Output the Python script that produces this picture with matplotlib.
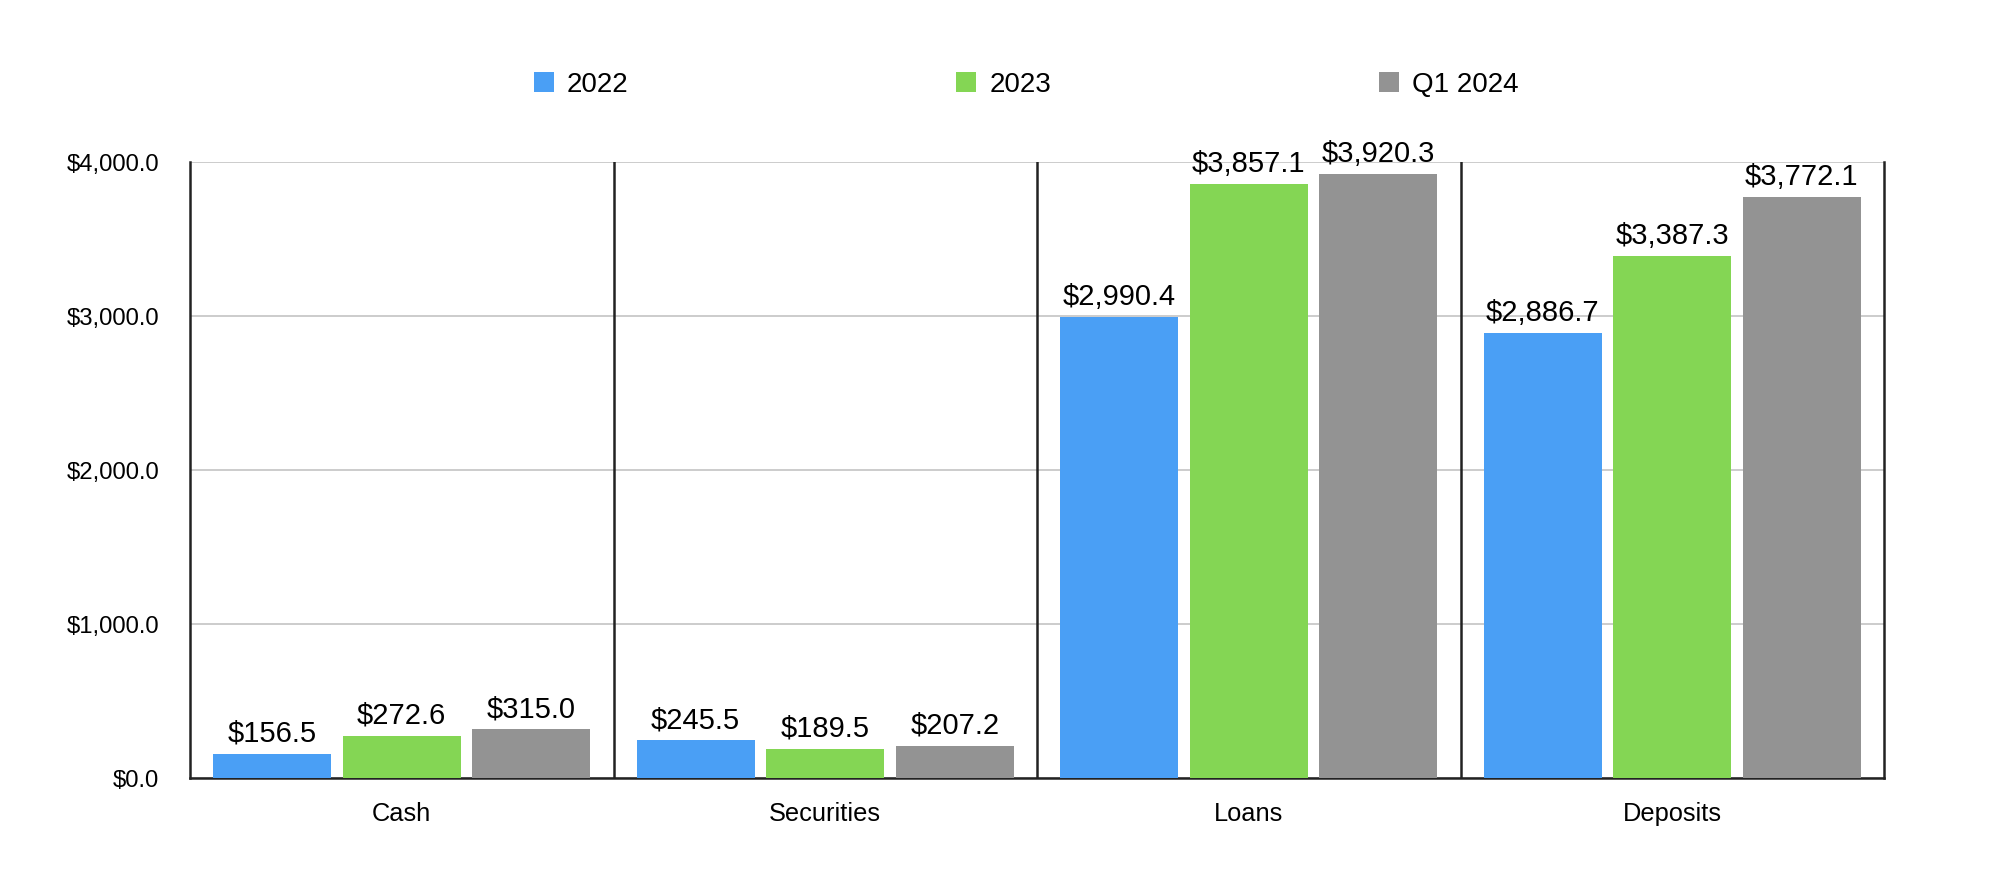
import matplotlib
matplotlib.use("Agg")
import matplotlib.pyplot as plt
from matplotlib.patches import Patch
import numpy as np

categories = ["Cash", "Securities", "Loans", "Deposits"]
series_names = ["2022", "2023", "Q1 2024"]
values_2022 = [156.5, 245.5, 2990.4, 2886.7]
values_2023 = [272.6, 189.5, 3857.1, 3387.3]
values_q1_2024 = [315.0, 207.2, 3920.3, 3772.1]
colors = ["#4A9FF5", "#84D654", "#939393"]

plt.rcParams["font.family"] = ["Liberation Sans", "DejaVu Sans"]

fig = plt.figure(figsize=(20.16, 8.72), dpi=100)
ax = fig.add_axes([190 / 2016, 1 - 778 / 872, (1884 - 190) / 2016, (778 - 162) / 872])

x = np.arange(len(categories)) + 0.5
width = 0.278
offsets = [-0.306, 0.0, 0.306]
all_series = [values_2022, values_2023, values_q1_2024]

for vals, off, col in zip(all_series, offsets, colors):
    bars = ax.bar(x + off, vals, width=width, color=col, zorder=3)
    for b, v in zip(bars, vals):
        ax.text(b.get_x() + b.get_width() / 2, v + 40, "${:,.1f}".format(v),
                ha="center", va="bottom", fontsize=21, zorder=4)

ax.set_xlim(0, len(categories))
ax.set_ylim(0, 4000)
ax.set_yticks([0, 1000, 2000, 3000, 4000])
ax.set_yticklabels(["${:,.1f}".format(t) for t in [0, 1000, 2000, 3000, 4000]])
ax.set_xticks(x)
ax.set_xticklabels(categories)
ax.tick_params(axis="y", length=0, labelsize=17.2, pad=22)
ax.tick_params(axis="x", length=0, labelsize=18.3, pad=17)

ax.grid(axis="y", color="#c4c4c4", linewidth=1.2, zorder=0)
for b in range(1, len(categories)):
    ax.axvline(b, color="#222222", linewidth=1.8, zorder=2)

ax.spines["top"].set_visible(False)
for side in ["left", "right", "bottom"]:
    ax.spines[side].set_color("#222222")
    ax.spines[side].set_linewidth(1.8)

handles = [Patch(facecolor=c, edgecolor="none") for c in colors]
fig.legend(handles, series_names, loc="center", bbox_to_anchor=(0.509, 1 - 85 / 872),
           ncol=3, frameon=False, fontsize=20, handlelength=0.72, handleheight=0.72,
           handletextpad=0.47, columnspacing=11.8)

fig.savefig("out.png", dpi=100)
